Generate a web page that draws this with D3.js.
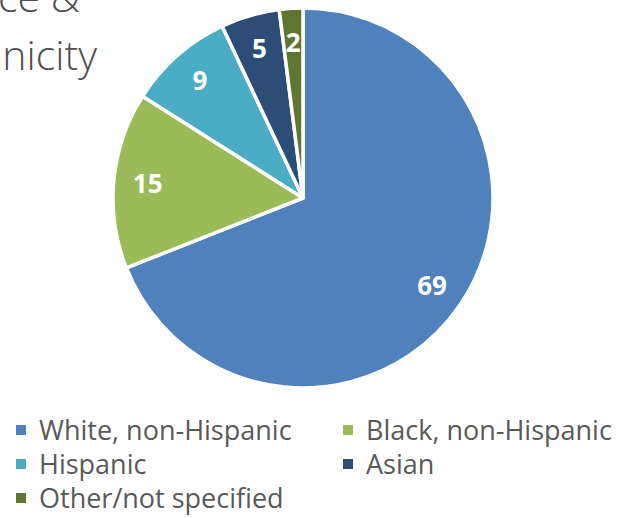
<!DOCTYPE html>
<html>
<head>
<meta charset="utf-8">
<script src="https://cdn.jsdelivr.net/npm/d3@7"></script>
<style>
  body { margin: 0; background: #fff; }
  svg { display: block; font-family: "Open Sans", sans-serif; }
</style>
</head>
<body>
<div id="chart"></div>
<script>
// data
const categories = ['White, non-Hispanic', 'Black, non-Hispanic', 'Hispanic', 'Asian', 'Other/not specified'];
const values = [69, 15, 9, 5, 2];
const colors = ['#4F81BD', '#9BBB59', '#4BACC6', '#2C4D75', '#5F7530'];
const titleLines = ['Race &', 'Ethnicity'];

const width = 620, height = 518;
const cx = 303, cy = 198, radius = 190;

const svg = d3.select('#chart').append('svg')
    .attr('width', width)
    .attr('height', height);

// title (partly cut off at the top-left, like the source slide)
svg.append('g').selectAll('text')
    .data(titleLines)
    .join('text')
    .attr('x', (d, i) => i === 0 ? 80 : 97)
    .attr('y', (d, i) => i === 0 ? 12 : 70)
    .attr('text-anchor', 'end')
    .attr('font-size', 41)
    .attr('font-weight', 300)
    .attr('fill', '#505050')
    .text(d => d);

// pie
const pie = d3.pie().sort(null).value(d => d);
const arcs = pie(values);
const arc = d3.arc().innerRadius(0).outerRadius(radius);
const labelArc = d3.arc().innerRadius(156).outerRadius(156);

const pieG = svg.append('g')
    .attr('transform', `translate(${cx},${cy})`);

pieG.selectAll('path')
    .data(arcs)
    .join('path')
    .attr('d', arc)
    .attr('fill', (d, i) => colors[i])
    .attr('stroke', '#fff')
    .attr('stroke-width', 3.5)
    .attr('stroke-linejoin', 'round');

pieG.selectAll('text')
    .data(arcs)
    .join('text')
    .attr('transform', d => `translate(${labelArc.centroid(d)})`)
    .attr('text-anchor', 'middle')
    .attr('dy', '0.36em')
    .attr('font-size', 26)
    .attr('font-weight', 'bold')
    .attr('fill', '#fff')
    .text(d => d.data);

// legend, two columns
const legend = svg.append('g');
const colX = [16, 343];
const rowY = [440, 474, 508];

const items = legend.selectAll('g')
    .data(categories)
    .join('g')
    .attr('transform', (d, i) => `translate(${colX[i % 2]},${rowY[Math.floor(i / 2)]})`);

items.append('rect')
    .attr('x', 0)
    .attr('y', -15)
    .attr('width', 10)
    .attr('height', 10)
    .attr('fill', (d, i) => colors[i]);

items.append('text')
    .attr('x', 23)
    .attr('y', 0)
    .attr('font-size', 27)
    .attr('fill', '#595959')
    .text(d => d);
</script>
</body>
</html>
